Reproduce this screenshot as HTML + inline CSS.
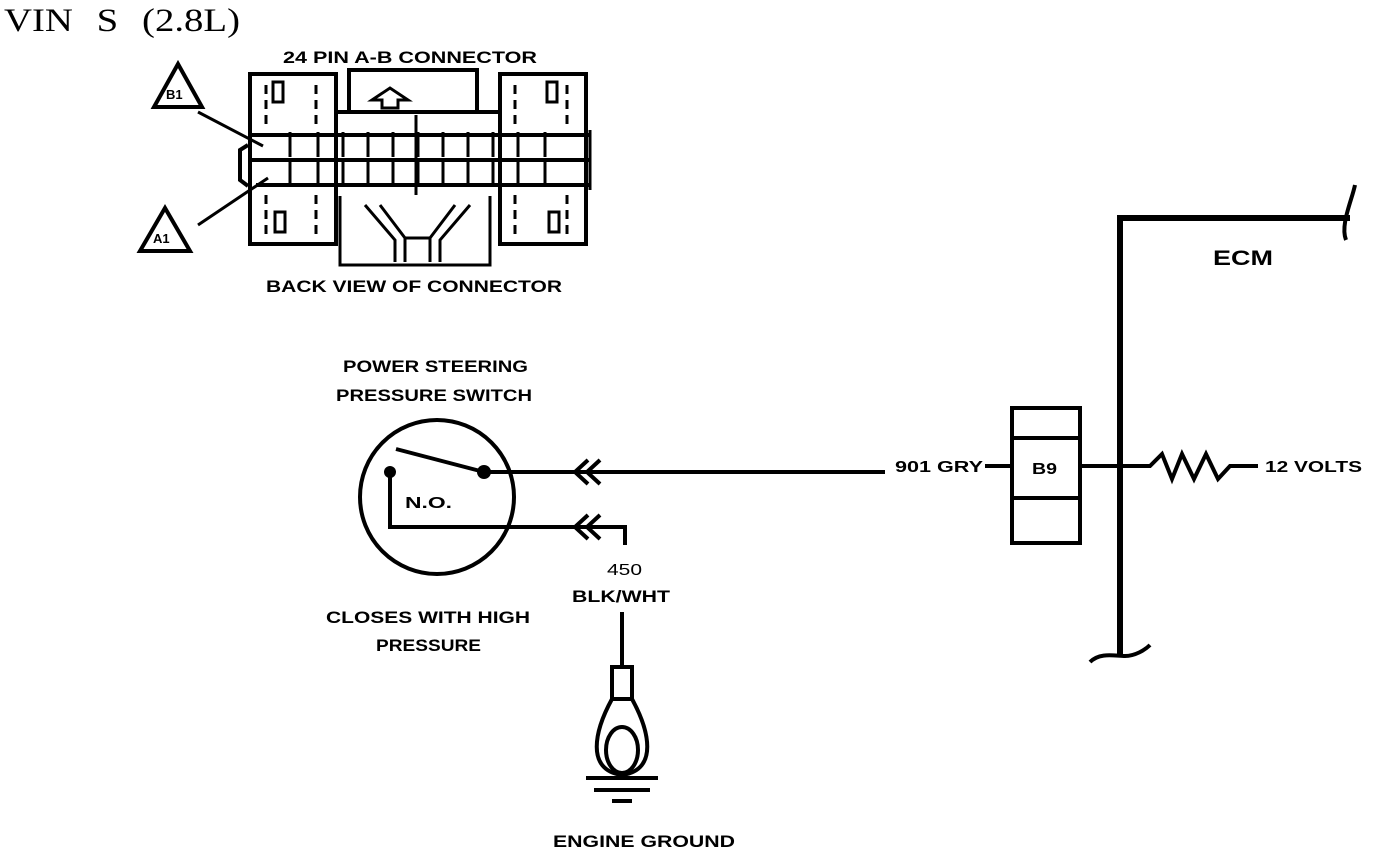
<!DOCTYPE html>
<html><head><meta charset="utf-8"><style>
html,body{margin:0;padding:0;background:#fff;}
svg{display:block;}
text{font-family:"Liberation Sans",sans-serif;font-weight:bold;fill:#000;}
</style></head><body>
<svg width="1376" height="850" viewBox="0 0 1376 850" xmlns="http://www.w3.org/2000/svg">
<text x="4" y="31" textLength="236" lengthAdjust="spacingAndGlyphs" style="font-family:'Liberation Serif',serif;font-weight:normal;font-size:33px;word-spacing:12px">VIN S (2.8L)</text>

<!-- Connector -->
<g fill="none" stroke="#000" stroke-width="4">
<text x="283" y="63" font-size="17" stroke="none" textLength="254" lengthAdjust="spacingAndGlyphs">24 PIN A-B CONNECTOR</text>
<rect x="250" y="74" width="86" height="170"/>
<rect x="500" y="74" width="86" height="170"/>
<rect x="349" y="70" width="128" height="42"/>
<path d="M336 112 H500" />
<path d="M372 100 L390 88 L408 100 H398 V108 H382 V100 Z" stroke-width="3"/>
<path d="M250 135 H590 M250 160 H590 M256 185 H590"/>
<path d="M248 145 L240 150 V180 L248 186" stroke-width="4"/>
<path d="M590 130 V190" stroke-width="3"/>
<g stroke-width="3">
<path d="M290 132 V157 M318 132 V157 M343 132 V157 M368 132 V157 M393 132 V157 M418 132 V157 M443 132 V157 M468 132 V157 M493 132 V157 M518 132 V157 M545 132 V157"/>
<path d="M290 162 V185 M318 162 V185 M343 162 V185 M368 162 V185 M393 162 V185 M418 162 V185 M443 162 V185 M468 162 V185 M493 162 V185 M518 162 V185 M545 162 V185"/>
<path d="M416 115 V195"/>
<path d="M340 196 V265 H490 V196"/>
<path d="M365 205 L395 240 V262 M380 205 L405 238 V262 M470 205 L440 240 V262 M455 205 L430 238 V262 M405 238 H430"/>
<path d="M266 85 V125 M316 85 V125 M266 195 V238 M316 195 V238 M515 85 V125 M567 85 V125 M515 195 V238 M567 195 V238" stroke-dasharray="9 6"/>
<rect x="273" y="82" width="10" height="20"/><rect x="547" y="82" width="10" height="20"/>
<rect x="275" y="212" width="10" height="20"/><rect x="549" y="212" width="10" height="20"/>
</g>
<path d="M154 107 L178 64 L202 107 Z" stroke-width="4"/>
<path d="M140 251 L165 208 L190 251 Z" stroke-width="4"/>
<path d="M198 112 L263 146 M198 225 L268 178" stroke-width="3"/>
<text x="166" y="99" font-size="13" stroke="none">B1</text>
<text x="153" y="243" font-size="13" stroke="none">A1</text>
<text x="266" y="292" font-size="17" stroke="none" textLength="296" lengthAdjust="spacingAndGlyphs">BACK VIEW OF CONNECTOR</text>
</g>

<!-- switch -->
<text x="343" y="372" font-size="17" textLength="185" lengthAdjust="spacingAndGlyphs">POWER STEERING</text>
<text x="336" y="401" font-size="17" textLength="196" lengthAdjust="spacingAndGlyphs">PRESSURE SWITCH</text>
<circle cx="437" cy="497" r="77" fill="none" stroke="#000" stroke-width="4"/>
<g stroke="#000" stroke-width="4" fill="none">
<path d="M396 449 L484 472"/>
<path d="M484 472 H885"/>
<path d="M985 466 H1012"/>
<path d="M390 472 V527 H625 V545"/>
<path d="M588 460 L575 472 L588 484 M600 460 L587 472 L600 484"/>
<path d="M588 515 L575 527 L588 539 M600 515 L587 527 L600 539"/>
</g>
<circle cx="390" cy="472" r="6"/><circle cx="484" cy="472" r="7"/>
<text x="405" y="508" font-size="16" textLength="47" lengthAdjust="spacingAndGlyphs">N.O.</text>
<text x="326" y="623" font-size="17" textLength="204" lengthAdjust="spacingAndGlyphs">CLOSES WITH HIGH</text>
<text x="376" y="651" font-size="17" textLength="105" lengthAdjust="spacingAndGlyphs">PRESSURE</text>
<text x="607" y="575" font-size="16" textLength="35" lengthAdjust="spacingAndGlyphs" style="font-weight:normal">450</text>
<text x="572" y="602" font-size="17" textLength="98" lengthAdjust="spacingAndGlyphs">BLK/WHT</text>

<!-- ground -->
<g stroke="#000" stroke-width="4" fill="none">
<path d="M622 612 V667"/>
<rect x="612" y="667" width="20" height="32"/>
<path d="M612 699 C595 730 585 770 622 775 C659 770 649 730 632 699"/>
<ellipse cx="622" cy="750" rx="16" ry="23"/>
<path d="M586 778 H658 M594 790 H650 M612 801 H632"/>
</g>
<text x="553" y="847" font-size="17" textLength="182" lengthAdjust="spacingAndGlyphs">ENGINE GROUND</text>

<!-- ECM -->
<g stroke="#000" fill="none">
<path d="M1120 655 V218 H1350" stroke-width="6"/>
<path d="M1346 240 C1340 225 1352 200 1355 185" stroke-width="4"/>
<path d="M1090 662 C1100 652 1115 656 1125 656 C1135 656 1145 650 1150 645" stroke-width="4"/>
<rect x="1012" y="408" width="68" height="135" stroke-width="4"/>
<path d="M1012 438 H1080 M1012 498 H1080" stroke-width="4"/>
<path d="M1080 466 H1150 L1162 454 L1172 479 L1182 454 L1194 479 L1206 454 L1218 479 L1230 466 H1258" stroke-width="4"/>
</g>
<text x="1213" y="265" font-size="21" textLength="60" lengthAdjust="spacingAndGlyphs">ECM</text>
<text x="1032" y="474" font-size="16" textLength="25" lengthAdjust="spacingAndGlyphs">B9</text>
<text x="895" y="472" font-size="16" textLength="88" lengthAdjust="spacingAndGlyphs">901 GRY</text>
<text x="1265" y="472" font-size="16" textLength="97" lengthAdjust="spacingAndGlyphs">12 VOLTS</text>
</svg>
</body></html>
